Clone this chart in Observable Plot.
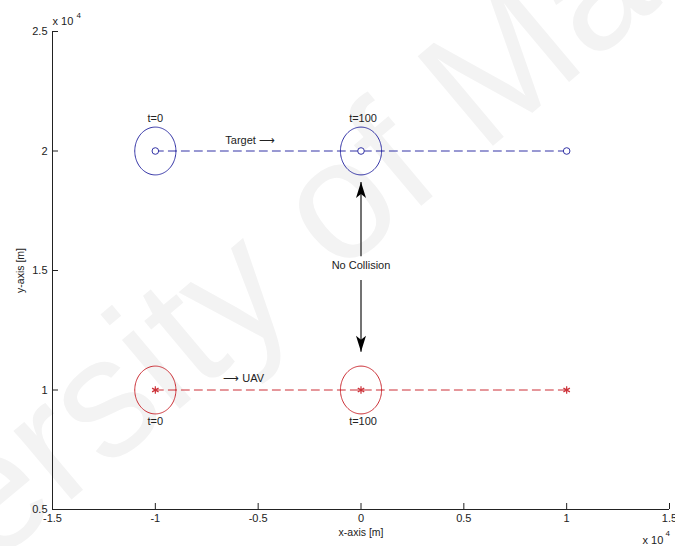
<!DOCTYPE html>
<html>
<head>
<meta charset="utf-8">
<script src="https://cdn.jsdelivr.net/npm/d3@7"></script>
<script src="https://cdn.jsdelivr.net/npm/@observablehq/plot@0.6"></script>
<style>
  html, body { margin: 0; padding: 0; background: #fff; }
  #chart svg { display: block; }
</style>
</head>
<body>
<div id="chart"></div>
<script>
// Axis ticks (metres); labels are shown in units of 10^4
const xTicks = [-15000, -10000, -5000, 0, 5000, 10000, 15000];
const yTicks = [5000, 10000, 15000, 20000, 25000];

// Target track along y = 2e4
const targetX = [-10000, 0, 10000];
const targetY = [20000, 20000, 20000];

// UAV track along y = 1e4
const uavX = [-10000, 0, 10000];
const uavY = [10000, 10000, 10000];

// Safety zone around each vehicle, drawn at t=0 and t=100
const zoneRadius = 1000;
const zoneSteps = [0, 1];
const timeLabels = ["t=0", "t=100"];
const timeLabelX = [-10000, 100];
const targetTimeLabelY = 21350;
const uavTimeLabelY = 8700;

// Direction notes next to each track
const noteText = ["Target \u27F6", "\u27F6 UAV"];
const noteX = [-6600, -6700];
const noteY = [20450, 10500];

// "No Collision" annotation with arrows towards both safety zones
const collisionText = "No Collision";
const collisionX = 0;
const collisionY = 15200;
const arrowUpY = [15600, 18700];
const arrowDownY = [14600, 11600];

const watermark = "University of Malaya";
const blue = "#3333a6";
const red = "#cc2f36";
const ink = "#222";

// Outline of a circle of given radius around (cx, cy), in data units
function ring(cx, cy, r) {
  return d3.range(0, 361, 3).map(a => ({
    x: cx + r * Math.cos(a * Math.PI / 180),
    y: cy + r * Math.sin(a * Math.PI / 180)
  }));
}

// Barbed arrowheads with the tip at the symbol origin
const headUp = {draw(c) { c.moveTo(0, 0); c.lineTo(-5, 16); c.lineTo(0, 12); c.lineTo(5, 16); c.closePath(); }};
const headDown = {draw(c) { c.moveTo(0, 0); c.lineTo(-5, -16); c.lineTo(0, -12); c.lineTo(5, -16); c.closePath(); }};

const fmt = d => String(d / 1e4);

const zoneMarks = [];
for (const i of zoneSteps) {
  zoneMarks.push(Plot.line(ring(targetX[i], targetY[i], zoneRadius), {x: "x", y: "y", stroke: blue, strokeWidth: 1}));
  zoneMarks.push(Plot.line(ring(uavX[i], uavY[i], zoneRadius), {x: "x", y: "y", stroke: red, strokeWidth: 1}));
}

const chart = Plot.plot({
  width: 675,
  height: 546,
  marginLeft: 52,
  marginRight: 6,
  marginTop: 31,
  marginBottom: 37,
  x: {domain: [-15000, 15000]},
  y: {domain: [5000, 25000]},
  style: {fontFamily: "'Liberation Sans', Arial, sans-serif", fontSize: "11px", color: ink, background: "#fff"},
  marks: [
    // faint watermark
    Plot.text([watermark], {x: () => -2200, y: () => 14000, rotate: -40, fontSize: 170, fill: "#f3f3f3",
      textAnchor: "middle", lineAnchor: "bottom"}),

    // axes (left and bottom only, ticks pointing inward)
    Plot.ruleX([-15000], {stroke: ink, strokeWidth: 1}),
    Plot.ruleY([5000], {stroke: ink, strokeWidth: 1}),
    Plot.axisX({ticks: xTicks, tickFormat: fmt, tickSize: -6, tickPadding: 11, label: null, stroke: ink, fill: ink}),
    Plot.axisY({ticks: yTicks, tickFormat: fmt, tickSize: -6, tickPadding: 11, label: null, stroke: ink, fill: ink}),

    // tracks
    Plot.line(targetX, {x: targetX, y: targetY, stroke: blue, strokeWidth: 1, strokeDasharray: "8,5"}),
    Plot.line(uavX, {x: uavX, y: uavY, stroke: red, strokeWidth: 1, strokeDasharray: "8,5"}),

    // safety zones
    ...zoneMarks,

    // position markers
    Plot.dot(targetX, {x: targetX, y: targetY, r: 3.3, stroke: blue, fill: "white", strokeWidth: 1}),
    Plot.dot(uavX, {x: uavX, y: uavY, r: 3.5, symbol: "asterisk", stroke: red, strokeWidth: 1.2}),

    // time labels
    Plot.text(zoneSteps, {x: i => timeLabelX[i], y: () => targetTimeLabelY, text: i => timeLabels[i], fill: ink}),
    Plot.text(zoneSteps, {x: i => timeLabelX[i], y: () => uavTimeLabelY, text: i => timeLabels[i], fill: ink}),

    // direction notes
    Plot.text(noteText, {x: (d, i) => noteX[i], y: (d, i) => noteY[i], text: d => d, textAnchor: "start", fill: ink}),

    // collision annotation
    Plot.link([collisionX], {x1: collisionX, x2: collisionX, y1: () => arrowUpY[0], y2: () => arrowUpY[1], stroke: "#444", strokeWidth: 1.5}),
    Plot.link([collisionX], {x1: collisionX, x2: collisionX, y1: () => arrowDownY[0], y2: () => arrowDownY[1], stroke: "#444", strokeWidth: 1.5}),
    Plot.dot([collisionX], {x: collisionX, y: () => arrowUpY[1], symbol: headUp, fill: "#000", stroke: "none"}),
    Plot.dot([collisionX], {x: collisionX, y: () => arrowDownY[1], symbol: headDown, fill: "#000", stroke: "none"}),
    Plot.text([collisionText], {x: () => collisionX, y: () => collisionY, fill: ink}),

    // axis titles and exponent notes
    Plot.text(["x-axis [m]"], {frameAnchor: "bottom", dy: 26, fontSize: 10.5, fill: ink}),
    Plot.text(["y-axis [m]"], {frameAnchor: "left", dx: -32, rotate: -90, textAnchor: "middle", lineAnchor: "middle", fontSize: 10.5, fill: ink}),
    Plot.text(["x 10"], {frameAnchor: "top-left", dx: 0, dy: -10, textAnchor: "start", lineAnchor: "middle", fill: ink}),
    Plot.text(["4"], {frameAnchor: "top-left", dx: 24, dy: -16, textAnchor: "start", lineAnchor: "middle", fontSize: 8, fill: ink}),
    Plot.text(["x 10"], {frameAnchor: "bottom-right", dx: -27, dy: 31, textAnchor: "start", lineAnchor: "middle", fill: ink}),
    Plot.text(["4"], {frameAnchor: "bottom-right", dx: -4, dy: 24, textAnchor: "start", lineAnchor: "middle", fontSize: 8, fill: ink})
  ]
});

document.getElementById("chart").append(chart);
</script>
</body>
</html>
